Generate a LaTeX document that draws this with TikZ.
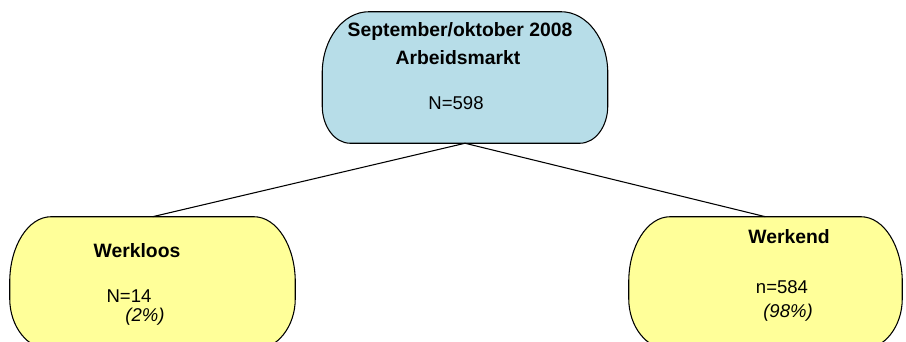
\documentclass[tikz,border=0pt]{standalone}
\usepackage{fontspec}
\setmainfont{Liberation Sans}
\usepackage{tikz}
\usepackage{xcolor}

\definecolor{topblue}{HTML}{B7DDE8}
\definecolor{paleyellow}{HTML}{FFFF99}

\tikzset{
  box/.style={minimum width=213.75pt, minimum height=98.25pt, inner sep=0pt},
  heading/.style={font=\fontsize{14.5}{16}\selectfont\bfseries, anchor=base},
  count/.style={font=\fontsize{13.9}{16}\selectfont, anchor=base},
  share/.style={font=\fontsize{13.9}{16}\selectfont\itshape, anchor=base},
}

%% box round a node: #3/#4 radii of upper corners, #5/#6 of lower corners
\newcommand{\capsule}[6]{%
  \draw[line width=0.8pt, fill=#2]
    ([xshift=#3]#1.north west) -- ([xshift=-#3]#1.north east)
    arc[start angle=90, end angle=0, x radius=#3, y radius=#4]
    -- ([yshift=#6]#1.south east)
    arc[start angle=0, end angle=-90, x radius=#5, y radius=#6]
    -- ([xshift=#5]#1.south west)
    arc[start angle=270, end angle=180, x radius=#5, y radius=#6]
    -- ([yshift=-#4]#1.north west)
    arc[start angle=180, end angle=90, x radius=#3, y radius=#4]
    -- cycle;}

\begin{document}
\begin{tikzpicture}[x=0.75pt, y=0.75pt]
    \useasboundingbox (0,0) rectangle (906,342);
    \clip (0,0) rectangle (906,342);

    %% the three boxes
    \node[box] (market) at (465,264.5) {};
    \node[box, minimum height=99pt] (jobless) at (152.5,59) {};
    \node[box, minimum height=99pt, minimum width=204.75pt] (working) at (765.5,59) {};
    \capsule{market}{topblue}{35pt}{46pt}{21pt}{28pt}
    \capsule{jobless}{paleyellow}{31pt}{49pt}{30pt}{38pt}
    \capsule{working}{paleyellow}{31pt}{49pt}{30pt}{38pt}

    %% branches
    \draw[line width=0.8pt] (market.south) -- (jobless.north);
    \draw[line width=0.8pt] (market.south) -- (working.north);

    %% texts of the top box
    \node[heading] (period) at (460,305) {September/oktober 2008};
    \node[heading] (field) at (458,277) {Arbeidsmarkt};
    \node[count] (total) at (456,232) {N=598};

    %% texts of the lower boxes
    \node[heading] (joblessname) at (137,84) {Werkloos};
    \node[count] (joblessn) at (129,39) {N=14};
    \node[share] (joblessp) at (145,20) {(2\%)};
    \node[heading] (workingname) at (789,98) {Werkend};
    \node[count] (workingn) at (782,48) {n=584};
    \node[share] (workingp) at (788,24) {(98\%)};
\end{tikzpicture}
\end{document}
